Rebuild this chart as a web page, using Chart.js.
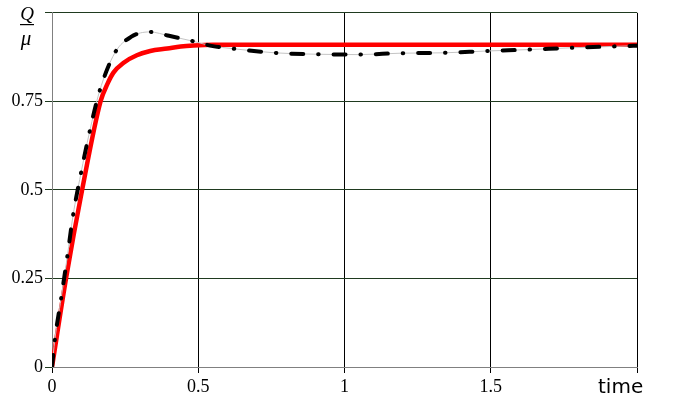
<!DOCTYPE html>
<html>
<head>
<meta charset="utf-8">
<script src="https://cdn.jsdelivr.net/npm/chart.js@4/dist/chart.umd.min.js"></script>
<style>
    html, body { margin: 0; padding: 0; background: #fff; }
    #wrap { width: 677px; height: 420px; }
</style>
</head>
<body>
<div id="wrap"><canvas id="plot"></canvas></div>
<script>
// data
var redTime = [0, 0.048, 0.103, 0.166, 0.19, 0.21, 0.245, 0.29, 0.336, 0.394, 0.44, 0.484, 0.55, 0.8, 1.2, 1.6, 2];
var redValue = [0, 0.25, 0.5, 0.75, 0.8, 0.831, 0.859, 0.88, 0.892, 0.899, 0.905, 0.908, 0.91, 0.91, 0.91, 0.91, 0.91];

var blackTime = [0, 0.0096, 0.031, 0.052, 0.072, 0.098, 0.128, 0.162, 0.215, 0.27, 0.334, 0.40, 0.476, 0.55, 0.616, 0.761, 0.906, 1.05, 1.194, 1.339, 1.482, 1.627, 1.769, 1.914, 2];
var blackValue = [0, 0.076, 0.193, 0.31, 0.428, 0.543, 0.662, 0.777, 0.887, 0.932, 0.946, 0.935, 0.921, 0.906, 0.899, 0.887, 0.883, 0.882, 0.886, 0.887, 0.892, 0.896, 0.901, 0.905, 0.907];

var xTicks = [0, 0.5, 1, 1.5, 2];
var yTicks = [0, 0.25, 0.5, 0.75, 1];

function pairs(xs, ys) {
    return xs.map(function (x, i) { return {x: x, y: ys[i]}; });
}

// axis captions: Q over mu, and "time"
var captions = {
    id: 'captions',
    afterDraw: function (chart) {
        var ctx = chart.ctx;
        ctx.save();
        ctx.fillStyle = '#000';
        ctx.textAlign = 'center';
        ctx.textBaseline = 'alphabetic';
        ctx.font = 'italic 19px "Liberation Serif"';
        ctx.fillText('Q', 27, 20);
        ctx.font = 'italic 21px "Liberation Serif"';
        ctx.fillText('\u03bc', 26, 45);
        ctx.fillRect(20, 24, 14, 1.2);
        ctx.font = '20px "DejaVu Sans"';
        ctx.textAlign = 'left';
        ctx.fillText('time', 598, 393);
        ctx.restore();
    }
};

var ctx = document.getElementById('plot').getContext('2d');
var chart = new Chart(ctx, {
    type: 'line',
    data: {
        datasets: [{
            data: pairs(blackTime, blackValue),
            borderColor: '#000',
            borderWidth: 4,
            borderDash: [12, 14.9, 0.5, 14.9],
            borderCapStyle: 'round',
            pointRadius: 0,
            cubicInterpolationMode: 'monotone',
            order: 0
        }, {
            data: pairs(blackTime, blackValue),
            borderColor: '#c4c4c4',
            borderWidth: 1,
            pointRadius: 0,
            cubicInterpolationMode: 'monotone',
            order: 1
        }, {
            data: pairs(redTime, redValue),
            borderColor: '#ff0000',
            borderWidth: 4.5,
            pointRadius: 0,
            cubicInterpolationMode: 'monotone',
            order: 2
        }]
    },
    options: {
        responsive: true,
        maintainAspectRatio: false,
        animation: false,
        layout: {padding: {top: 12, right: 40, left: 0, bottom: 0}},
        plugins: {legend: {display: false}, tooltip: {enabled: false}},
        scales: {
            x: {
                type: 'linear',
                min: 0,
                max: 2,
                afterBuildTicks: function (scale) {
                    scale.ticks = xTicks.map(function (v) { return {value: v}; });
                },
                afterFit: function (scale) { scale.height = 53; },
                grid: {color: '#000', lineWidth: 1, tickLength: 6},
                border: {color: '#808080', width: 1},
                ticks: {
                    color: '#000',
                    padding: 3,
                    maxRotation: 0,
                    font: {family: '"Liberation Serif"', size: 18},
                    callback: function (v) { return v === 2 ? '' : String(v); }
                }
            },
            y: {
                type: 'linear',
                min: 0,
                max: 1,
                afterBuildTicks: function (scale) {
                    scale.ticks = yTicks.map(function (v) { return {value: v}; });
                },
                afterFit: function (scale) { scale.width = 52; },
                grid: {color: '#1f3a1f', lineWidth: 1, tickLength: 7},
                border: {color: '#808080', width: 1},
                ticks: {
                    color: '#000',
                    padding: 2,
                    font: {family: '"Liberation Serif"', size: 18},
                    callback: function (v) { return v === 1 ? '' : String(v); }
                }
            }
        }
    },
    plugins: [captions]
});
</script>
</body>
</html>
